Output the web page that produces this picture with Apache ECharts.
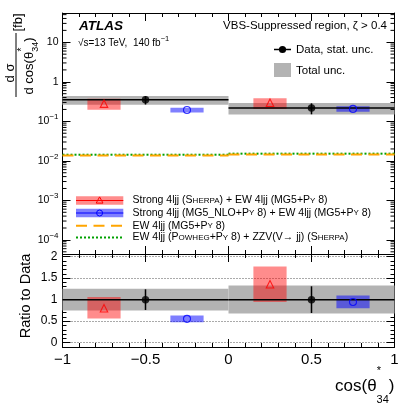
<!DOCTYPE html>
<html><head><meta charset="utf-8">
<script src="https://cdn.jsdelivr.net/npm/echarts@6/dist/echarts.min.js"></script>
<style>html,body{margin:0;padding:0;background:#fff}#c{width:415px;height:407px}</style>
</head><body><div id="c"></div>
<script>
// ---------------- data ----------------
const binLo = [-1, 0];
const binHi = [0, 1];
const binCenter = [-0.5, 0.5];
const dataVal = [0.35, 0.218];          // fb
const dataStatRel = [0.24, 0.31];       // relative stat. unc.
const totalRatioLo = [0.745, 0.68];     // total unc. band (ratio to data)
const totalRatioHi = [1.255, 1.33];
const sherpaX = [-0.75, 0.25];
const sherpaVal = [0.28, 0.296];
const sherpaLo = [0.197, 0.206];
const sherpaHi = [0.372, 0.386];
const mgX = [-0.25, 0.75];
const mgVal = [0.194, 0.206];
const mgLo = [0.167, 0.174];
const mgHi = [0.222, 0.239];
const ewVal = [0.0136, 0.0144];
const ewZzvVal = [0.0143, 0.0152];
const xTickLabels = ['\u22121', '\u22120.5', '0', '0.5', '1'];
const ratioTickLabels = {0: '0', 0.5: '0.5', 1: '1', 1.5: '1.5', 2: '2'};

// ---------------- layout / style ----------------
const FONT = '"Liberation Sans", Arimo, Helvetica, Arial, sans-serif';
const L = 62.5, W = 332, T1 = 13, H1 = 241, T2 = 254, H2 = 93;
const YMIN = 4.4e-5, YMAX = 55, RMIN = -0.1, RMAX = 2.06;
const BOXW = 0.1;
const GRAY = '#b3b3b3';
const RED_FILL = 'rgba(255,0,0,0.45)';
const BLUE_FILL = 'rgba(0,0,255,0.5)';
const ORANGE = '#ffa500';
const GREEN = '#00a000';

const chart = echarts.init(document.getElementById('c'), null, {renderer: 'canvas'});

function rectSeries(xi, yi, data, fill) {
  return {type: 'custom', xAxisIndex: xi, yAxisIndex: yi, silent: true, clip: false,
    data: data, encode: {x: [0, 1], y: [2, 3]},
    renderItem: (p, api) => {
      const a = api.coord([api.value(0), api.value(3)]);
      const b = api.coord([api.value(1), api.value(2)]);
      return {type: 'rect', shape: {x: a[0], y: a[1], width: b[0] - a[0], height: b[1] - a[1]}, style: {fill: fill}};
    }};
}
function hlineSeries(xi, yi, data, stroke, width, dash) {
  return {type: 'custom', xAxisIndex: xi, yAxisIndex: yi, silent: true, clip: false,
    data: data, encode: {x: [0, 1], y: [2]},
    renderItem: (p, api) => {
      const a = api.coord([api.value(0), api.value(2)]);
      const b = api.coord([api.value(1), api.value(2)]);
      return {type: 'line', shape: {x1: a[0], y1: a[1], x2: b[0], y2: b[1]},
        style: {stroke: stroke, lineWidth: width, lineDash: dash || null}};
    }};
}
function errSeries(xi, yi, data) {
  return {type: 'custom', xAxisIndex: xi, yAxisIndex: yi, silent: true, clip: false,
    data: data, encode: {x: [0], y: [1, 2]},
    renderItem: (p, api) => {
      const a = api.coord([api.value(0), api.value(1)]);
      const b = api.coord([api.value(0), api.value(2)]);
      return {type: 'line', shape: {x1: a[0], y1: a[1], x2: b[0], y2: b[1]}, style: {stroke: '#000', lineWidth: 1.5}};
    }};
}
function markerSeries(xi, yi, data, symbol, size, color, filled) {
  return {type: 'scatter', xAxisIndex: xi, yAxisIndex: yi, silent: true, data: data,
    symbol: symbol, symbolSize: size,
    itemStyle: filled ? {color: color} : {color: 'rgba(0,0,0,0)', borderColor: color, borderWidth: 1.1},
    z: 5};
}

// minor tick positions on log axis (2..9 x 10^k)
const logMinor = [];
for (let k = -5; k <= 1; k++) for (let m = 2; m <= 9; m++) {
  const v = m * Math.pow(10, k);
  if (v > YMIN && v < YMAX) logMinor.push([v]);
}
const logMinorSeries = {type: 'custom', xAxisIndex: 0, yAxisIndex: 0, silent: true, clip: false,
  data: logMinor, encode: {y: [0]},
  renderItem: (p, api) => {
    const a = api.coord([-1, api.value(0)]);
    const b = api.coord([1, api.value(0)]);
    return {type: 'group', children: [
      {type: 'line', shape: {x1: a[0], y1: a[1], x2: a[0] + 4, y2: a[1]}, style: {stroke: '#000', lineWidth: 1}},
      {type: 'line', shape: {x1: b[0] - 4, y1: b[1], x2: b[0], y2: b[1]}, style: {stroke: '#000', lineWidth: 1}}
    ]};
  }};

// build series data
const n = dataVal.length;
const idx = [...Array(n).keys()];
const totalTop = idx.map(i => [binLo[i], binHi[i], dataVal[i] * totalRatioLo[i], dataVal[i] * totalRatioHi[i]]);
const totalRat = idx.map(i => [binLo[i], binHi[i], totalRatioLo[i], totalRatioHi[i]]);
const sherpaBoxTop = idx.map(i => [sherpaX[i] - BOXW, sherpaX[i] + BOXW, sherpaLo[i], sherpaHi[i]]);
const sherpaBoxRat = idx.map(i => [sherpaX[i] - BOXW, sherpaX[i] + BOXW, sherpaLo[i] / dataVal[i], sherpaHi[i] / dataVal[i]]);
const mgBoxTop = idx.map(i => [mgX[i] - BOXW, mgX[i] + BOXW, mgLo[i], mgHi[i]]);
const mgBoxRat = idx.map(i => [mgX[i] - BOXW, mgX[i] + BOXW, mgLo[i] / dataVal[i], mgHi[i] / dataVal[i]]);
const dataLineTop = idx.map(i => [binLo[i], binHi[i], dataVal[i]]);
const dataLineRat = idx.map(i => [binLo[i], binHi[i], 1]);
const dataErrTop = idx.map(i => [binCenter[i], dataVal[i] * (1 - dataStatRel[i]), dataVal[i] * (1 + dataStatRel[i])]);
const dataErrRat = idx.map(i => [binCenter[i], 1 - dataStatRel[i], 1 + dataStatRel[i]]);
const dataPtTop = idx.map(i => [binCenter[i], dataVal[i]]);
const dataPtRat = idx.map(i => [binCenter[i], 1]);
const sherpaPtTop = idx.map(i => [sherpaX[i], sherpaVal[i]]);
const sherpaPtRat = idx.map(i => [sherpaX[i], sherpaVal[i] / dataVal[i]]);
const mgPtTop = idx.map(i => [mgX[i], mgVal[i]]);
const mgPtRat = idx.map(i => [mgX[i], mgVal[i] / dataVal[i]]);
const ewLine = idx.map(i => [binLo[i], binHi[i], ewVal[i]]);
const ewZzvLine = idx.map(i => [binLo[i], binHi[i], ewZzvVal[i]]);

// axes
const axLine = {show: true, onZero: false, lineStyle: {color: '#000', width: 1}};
function xAx(gi, pos, labels) {
  return {type: 'value', gridIndex: gi, position: pos, min: -1, max: 1, interval: 0.5,
    axisLine: axLine,
    axisTick: {show: true, inside: true, length: 8, lineStyle: {color: '#000'}},
    minorTick: {show: true, splitNumber: 5, length: 4, lineStyle: {color: '#000'}},
    splitLine: {show: false},
    axisLabel: labels ? {show: true, color: '#000', fontFamily: FONT, fontSize: 15, margin: 5,
      formatter: v => xTickLabels[Math.round((v + 1) * 2)]} : {show: false}};
}
function supLabel(v) {
  const k = Math.round(Math.log10(v));
  if (k === 0) return '1';
  if (k === 1) return '10';
  return '10{s|' + (k < 0 ? '\u2212' : '') + Math.abs(k) + '}';
}
function yLog(pos, labels) {
  return {type: 'log', gridIndex: 0, position: pos, min: YMIN, max: YMAX, logBase: 10,
    axisLine: axLine,
    axisTick: {show: true, inside: true, length: 8, lineStyle: {color: '#000'}},
    minorTick: {show: false}, splitLine: {show: false},
    axisLabel: labels ? {show: true, color: '#000', fontFamily: FONT, fontSize: 10.5, margin: 4,
      showMinLabel: false, showMaxLabel: false, formatter: supLabel,
      rich: {s: {fontSize: 8, fontFamily: FONT, color: '#000', verticalAlign: 'top', lineHeight: 17}}} : {show: false}};
}
function yRat(pos, labels) {
  return {type: 'value', gridIndex: 1, position: pos, min: RMIN, max: RMAX,
    axisLine: axLine,
    axisTick: {show: true, inside: true, length: 8, lineStyle: {color: '#000'}},
    minorTick: {show: true, splitNumber: 5, length: 4, lineStyle: {color: '#000'}},
    splitLine: {show: pos === 'left', lineStyle: {color: '#555', type: [1, 2], width: 1}},
    axisLabel: labels ? {show: true, color: '#000', fontFamily: FONT, fontSize: 12, margin: 5,
      showMinLabel: false, showMaxLabel: false,
      formatter: v => { const key = Math.round(v * 10) / 10; return ratioTickLabels[key] !== undefined ? ratioTickLabels[key] : ''; }} : {show: false}};
}

// ---------------- graphics (texts, legends) ----------------
const g = [];
function txt(x, y, text, font, opts) {
  const o = Object.assign({type: 'text', x: x, y: y, silent: true,
    style: {text: text, font: font, fill: '#000', textAlign: 'left', textVerticalAlign: 'middle'}}, opts || {});
  if (opts && opts.style) o.style = Object.assign({text: text, font: font, fill: '#000', textAlign: 'left', textVerticalAlign: 'middle'}, opts.style);
  g.push(o);
}
txt(79, 26, 'ATLAS', 'italic bold 13.5px ' + FONT);
txt(78, 43, '\u221As=13 TeV,  140 fb{s|\u22121}', '10px ' + FONT,
  {style: {rich: {s: {fontSize: 7.5, fontFamily: FONT, verticalAlign: 'top', lineHeight: 16}}}});
txt(387, 26, 'VBS-Suppressed region, \u03B6 > 0.4', '11.5px ' + FONT, {style: {textAlign: 'right'}});
// top-right legend
g.push({type: 'line', silent: true, shape: {x1: 274, y1: 49.5, x2: 291, y2: 49.5}, style: {stroke: '#000', lineWidth: 1.5}});
g.push({type: 'circle', silent: true, shape: {cx: 282.5, cy: 49.5, r: 3.6}, style: {fill: '#000'}});
txt(296, 49.5, 'Data, stat. unc.', '11.5px ' + FONT);
g.push({type: 'rect', silent: true, shape: {x: 274, y: 63, width: 17, height: 14}, style: {fill: GRAY}});
txt(296, 70.5, 'Total unc.', '11.5px ' + FONT);
// lower-left legend
const LX0 = 76, LX1 = 123.3, LXM = 99.6, LT = 132.5;
const rows = [200.5, 213, 225.7, 237.5];
g.push({type: 'rect', silent: true, shape: {x: LX0, y: rows[0] - 4.2, width: LX1 - LX0, height: 8.4}, style: {fill: RED_FILL}});
g.push({type: 'line', silent: true, shape: {x1: LX0, y1: rows[0], x2: LX1, y2: rows[0]}, style: {stroke: '#f00', lineWidth: 1.2}});
g.push({type: 'polygon', silent: true, shape: {points: [[LXM, rows[0] - 3.6], [LXM - 3.4, rows[0] + 2.6], [LXM + 3.4, rows[0] + 2.6]]}, style: {fill: 'none', stroke: '#f00', lineWidth: 1}});
g.push({type: 'rect', silent: true, shape: {x: LX0, y: rows[1] - 4.2, width: LX1 - LX0, height: 8.4}, style: {fill: BLUE_FILL}});
g.push({type: 'line', silent: true, shape: {x1: LX0, y1: rows[1], x2: LX1, y2: rows[1]}, style: {stroke: '#00f', lineWidth: 1.2}});
g.push({type: 'circle', silent: true, shape: {cx: LXM, cy: rows[1], r: 3}, style: {fill: 'none', stroke: '#00f', lineWidth: 1}});
g.push({type: 'line', silent: true, shape: {x1: LX0, y1: rows[2], x2: LX1, y2: rows[2]}, style: {stroke: ORANGE, lineWidth: 2, lineDash: [11, 6.5]}});
g.push({type: 'line', silent: true, shape: {x1: LX0, y1: rows[3], x2: LX1, y2: rows[3]}, style: {stroke: GREEN, lineWidth: 2, lineDash: [2, 2]}});
const legRich = {rich: {c: {fontSize: 8, fontFamily: FONT, verticalAlign: 'middle'}}};
txt(LT, rows[0], 'Strong 4ljj (S{c|HERPA}) + EW 4ljj (MG5+P{c|Y} 8)', '10.5px ' + FONT, {style: legRich});
txt(LT, rows[1], 'Strong 4ljj (MG5_NLO+P{c|Y} 8) + EW 4ljj (MG5+P{c|Y} 8)', '10.5px ' + FONT, {style: legRich});
txt(LT, rows[2], 'EW 4ljj (MG5+P{c|Y} 8)', '10.5px ' + FONT, {style: legRich});
txt(LT, rows[3], 'EW 4ljj (P{c|OWHEG}+P{c|Y} 8) + ZZV(V\u2192 jj) (S{c|HERPA})', '10.5px ' + FONT, {style: legRich});
// y-axis title (rotated)
const ROT = Math.PI / 2;
txt(10, 73, 'd \u03C3', '13px ' + FONT, {rotation: ROT, style: {textAlign: 'center'}});
g.push({type: 'line', silent: true, shape: {x1: 16, y1: 33, x2: 16, y2: 97}, style: {stroke: '#000', lineWidth: 1}});
txt(29, 66, 'd cos(\u03B8{s|34})', '13px ' + FONT, {rotation: ROT,
  style: {textAlign: 'center', rich: {s: {fontSize: 9, fontFamily: FONT, verticalAlign: 'bottom', lineHeight: 23}}}});
txt(22, 49.5, '*', '10px ' + FONT, {rotation: ROT, style: {textAlign: 'center'}});
txt(18.5, 22.5, '[fb]', '13px ' + FONT, {rotation: ROT, style: {textAlign: 'center'}});
// ratio y title
txt(26, 296, 'Ratio to Data', '14.5px ' + FONT, {rotation: ROT, style: {textAlign: 'center'}});
// x title
txt(394.5, 386, 'cos(\u03B8{s|34})', '17px ' + FONT,
  {style: {textAlign: 'right', rich: {s: {fontSize: 11, fontFamily: FONT, verticalAlign: 'bottom', lineHeight: 39}}}});
txt(379, 371, '*', '11px ' + FONT, {style: {textAlign: 'center'}});

const option = {
  animation: false,
  backgroundColor: '#fff',
  textStyle: {fontFamily: FONT},
  grid: [
    {left: L, top: T1, width: W, height: H1, outerBoundsMode: 'none', containLabel: false},
    {left: L, top: T2, width: W, height: H2, outerBoundsMode: 'none', containLabel: false}
  ],
  xAxis: [xAx(0, 'bottom', false), xAx(0, 'top', false), xAx(1, 'bottom', true), xAx(1, 'top', false)],
  yAxis: [yLog('left', true), yLog('right', false), yRat('left', true), yRat('right', false)],
  series: [
    // top panel
    rectSeries(0, 0, totalTop, GRAY),
    hlineSeries(0, 0, ewZzvLine, GREEN, 2, [2, 2]),
    hlineSeries(0, 0, ewLine, ORANGE, 2, [11, 6.5]),
    rectSeries(0, 0, sherpaBoxTop, RED_FILL),
    rectSeries(0, 0, mgBoxTop, BLUE_FILL),
    hlineSeries(0, 0, dataLineTop, '#000', 1.5),
    errSeries(0, 0, dataErrTop),
    markerSeries(0, 0, dataPtTop, 'circle', 7.5, '#000', true),
    markerSeries(0, 0, sherpaPtTop, 'triangle', 7.5, '#f00', false),
    markerSeries(0, 0, mgPtTop, 'circle', 7, '#00f', false),
    logMinorSeries,
    // ratio panel
    rectSeries(2, 2, totalRat, GRAY),
    rectSeries(2, 2, sherpaBoxRat, RED_FILL),
    rectSeries(2, 2, mgBoxRat, BLUE_FILL),
    hlineSeries(2, 2, dataLineRat, '#000', 1.5),
    errSeries(2, 2, dataErrRat),
    markerSeries(2, 2, dataPtRat, 'circle', 7.5, '#000', true),
    markerSeries(2, 2, sherpaPtRat, 'triangle', 7.5, '#f00', false),
    markerSeries(2, 2, mgPtRat, 'circle', 7, '#00f', false)
  ],
  graphic: g
};
chart.setOption(option);
</script>
</body></html>
